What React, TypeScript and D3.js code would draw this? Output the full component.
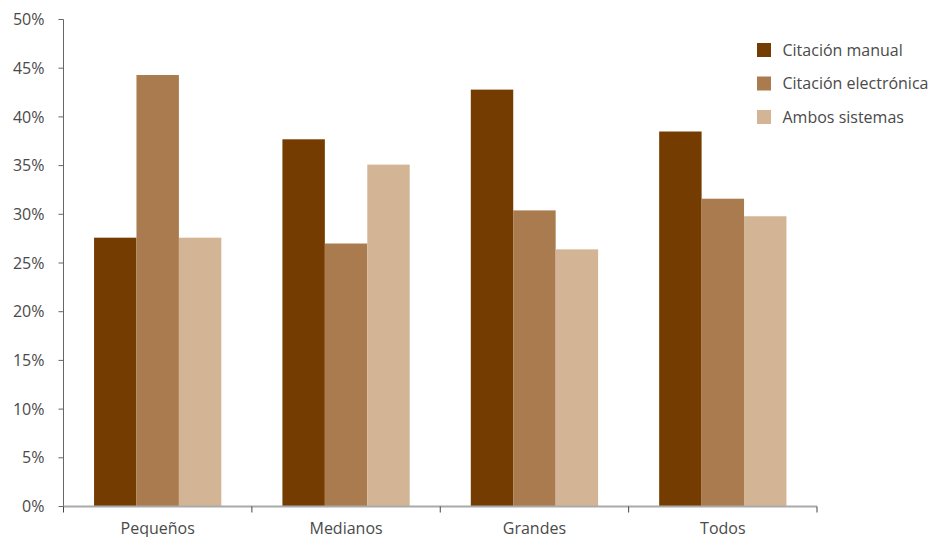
import React from "react";
import * as d3 from "d3";

const categories = ["Pequeños", "Medianos", "Grandes", "Todos"];
const seriesNames = ["Citación manual", "Citación electrónica", "Ambos sistemas"];
const manual = [27.6, 37.7, 42.8, 38.5];
const electronica = [44.3, 27.0, 30.4, 31.6];
const ambos = [27.6, 35.1, 26.4, 29.8];
const yTicks = [0, 5, 10, 15, 20, 25, 30, 35, 40, 45, 50];
const colors = ["#743C00", "#A97B4E", "#D3B596"];

const W = 930;
const H = 537;
const margin = { left: 63.5, right: 113, top: 19.5, bottom: 30.5 };
const FONT = "'Open Sans', 'Noto Sans', sans-serif";

export default function App() {
  const series = [manual, electronica, ambos];
  const innerBottom = H - margin.bottom;
  const x = d3
    .scaleBand<string>()
    .domain(categories)
    .range([margin.left, W - margin.right])
    .paddingInner(0)
    .paddingOuter(0);
  const x1 = d3
    .scaleBand<number>()
    .domain([0, 1, 2])
    .range([0, x.bandwidth()])
    .paddingOuter(0.72)
    .paddingInner(0);
  const y = d3.scaleLinear().domain([0, 50]).range([innerBottom, margin.top]);

  return (
    <svg
      width={W}
      height={H}
      style={{ position: "absolute", left: 0, top: 0, background: "#fff" }}
      fontFamily={FONT}
    >
      {categories.map((c, ci) =>
        series.map((s, si) => (
          <rect
            key={`${c}-${si}`}
            x={(x(c) ?? 0) + (x1(si) ?? 0)}
            y={y(s[ci])}
            width={x1.bandwidth()}
            height={innerBottom - y(s[ci])}
            fill={colors[si]}
          />
        ))
      )}

      {/* y axis */}
      <line
        x1={margin.left}
        x2={margin.left}
        y1={margin.top}
        y2={innerBottom}
        stroke="#666"
        strokeWidth={1}
      />
      {yTicks.map((t) => (
        <g key={t}>
          <line
            x1={margin.left - 5}
            x2={margin.left}
            y1={y(t)}
            y2={y(t)}
            stroke="#666"
          />
          <text
            x={margin.left - 19}
            y={y(t)}
            dy="0.35em"
            textAnchor="end"
            fontSize={16}
            fill="#4a4a4a"
          >
            {t}%
          </text>
        </g>
      ))}

      {/* x axis */}
      <line
        x1={margin.left}
        x2={W - margin.right}
        y1={innerBottom}
        y2={innerBottom}
        stroke="#aaaaaa"
        strokeWidth={2}
      />
      {[...categories.map((c) => x(c) ?? 0), W - margin.right].map((px, i) => (
        <line
          key={i}
          x1={px}
          x2={px}
          y1={innerBottom}
          y2={innerBottom + 6}
          stroke="#444"
        />
      ))}
      {categories.map((c) => (
        <text
          key={c}
          x={(x(c) ?? 0) + x.bandwidth() / 2}
          y={innerBottom + 27}
          textAnchor="middle"
          fontSize={16}
          fill="#4a4a4a"
        >
          {c}
        </text>
      ))}

      {/* legend */}
      {seriesNames.map((n, i) => (
        <g key={n} transform={`translate(757, ${43 + i * 33.5})`}>
          <rect x={0} y={0} width={14} height={14} fill={colors[i]} />
          <text x={25.5} y={7} dy="0.35em" fontSize={16} fill="#4a4a4a">
            {n}
          </text>
        </g>
      ))}
    </svg>
  );
}
